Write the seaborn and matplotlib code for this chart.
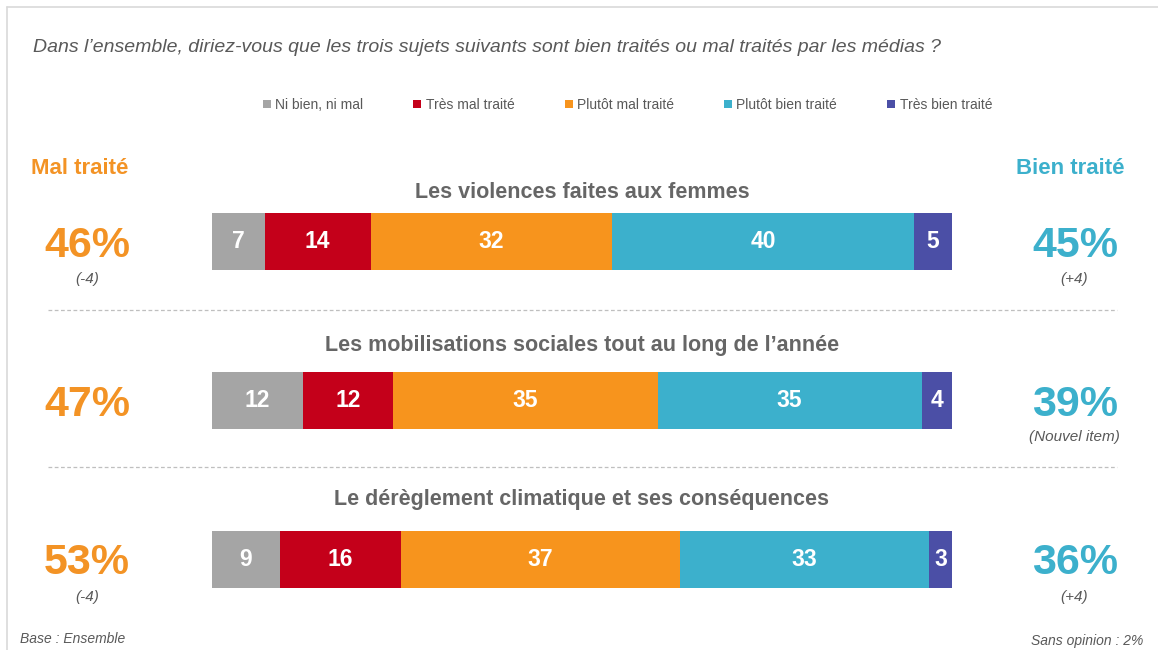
import numpy as np
import pandas as pd
import matplotlib
matplotlib.use("Agg")
import matplotlib.pyplot as plt
from matplotlib.lines import Line2D
import seaborn as sns

# ---------------- data ----------------
topics = ["Les violences faites aux femmes",
          "Les mobilisations sociales tout au long de l\u2019ann\u00e9e",
          "Le d\u00e9r\u00e8glement climatique et ses cons\u00e9quences"]
series = ["Ni bien, ni mal", "Tr\u00e8s mal trait\u00e9", "Plut\u00f4t mal trait\u00e9",
          "Plut\u00f4t bien trait\u00e9", "Tr\u00e8s bien trait\u00e9"]
ni_bien_ni_mal = [7, 12, 9]
tres_mal = [14, 12, 16]
plutot_mal = [32, 35, 37]
plutot_bien = [40, 35, 33]
tres_bien = [5, 4, 3]
evol_mal = ["(-4)", "", "(-4)"]
evol_bien = ["(+4)", "(Nouvel item)", "(+4)"]
sans_opinion = 2

colors = ["#A5A5A5", "#C4001A", "#F7941D", "#3CB0CC", "#4B4FA6"]
TXT = "#595959"
TITLE = "#666666"
ORANGE = "#F39325"
TEAL = "#3CB0CC"

values = np.array([ni_bien_ni_mal, tres_mal, plutot_mal, plutot_bien, tres_bien])
cum = values.cumsum(axis=0)
mal_tot = values[1] + values[2]
bien_tot = values[3] + values[4]

W, H = 1158, 650
fig = plt.figure(figsize=(W / 100, H / 100), dpi=100)
sns.set_style("white")
plt.rcParams["font.family"] = ["Liberation Sans", "DejaVu Sans"]

def fx(x):
    return x / W

def fy(y):
    return 1 - y / H

x0, x1 = 212, 952
ax = fig.add_axes([fx(x0), 0, fx(x1) - fx(x0), 1])

# stacked bars: draw cumulative totals from the widest to the narrowest
for i in range(len(series) - 1, -1, -1):
    df = pd.DataFrame({"topic": topics, "val": cum[i]})
    sns.barplot(data=df, x="val", y="topic", color=colors[i], width=0.36,
                saturation=1, ax=ax, orient="h", linewidth=0)

total = cum[-1].max()
ax.set_xlim(0, total)
row0, step = 241.5, 159.0
ax.set_ylim((H - row0) / step, -row0 / step)
ax.axis("off")

# value labels inside bars
for k in range(len(topics)):
    for i in range(len(series)):
        left = cum[i][k] - values[i][k]
        ax.text(left + values[i][k] / 2, k, str(values[i][k]), ha="center", va="center",
                color="white", fontsize=16.5, fontweight="bold")

# question
fig.text(fx(33), fy(48), "Dans l\u2019ensemble, diriez-vous que les trois sujets suivants sont bien trait\u00e9s ou mal trait\u00e9s par les m\u00e9dias ?",
         ha="left", va="center", fontsize=14, style="italic", color=TXT)

# legend
handles = [Line2D([0], [0], marker="s", linestyle="none", markersize=6,
                  markerfacecolor=c, markeredgewidth=0) for c in colors]
fig.legend(handles, series, loc="center", bbox_to_anchor=(fx(626), fy(105)), ncol=5,
           frameon=False, fontsize=10, labelcolor=TXT, handletextpad=0.1,
           columnspacing=3.4, handlelength=1.0)

# headers
fig.text(fx(80), fy(168), "Mal trait\u00e9", ha="center", va="center", fontsize=16,
         fontweight="bold", color=ORANGE)
fig.text(fx(1070), fy(168), "Bien trait\u00e9", ha="center", va="center", fontsize=16,
         fontweight="bold", color=TEAL)

title_y = [192, 345, 500]
for k in range(len(topics)):
    yc = row0 + step * k
    fig.text(fx((x0 + x1) / 2), fy(title_y[k]), topics[k], ha="center", va="center",
             fontsize=15.5, fontweight="bold", color=TITLE)
    fig.text(fx(87), fy(yc + 4), f"{mal_tot[k]}%", ha="center", va="center",
             fontsize=31, fontweight="bold", color=ORANGE)
    fig.text(fx(1075), fy(yc + 4), f"{bien_tot[k]}%", ha="center", va="center",
             fontsize=31, fontweight="bold", color=TEAL)
    if evol_mal[k]:
        fig.text(fx(87), fy(yc + 37), evol_mal[k], ha="center", va="center",
                 fontsize=11, style="italic", color=TXT)
    if evol_bien[k]:
        fig.text(fx(1074), fy(yc + 37), evol_bien[k], ha="center", va="center",
                 fontsize=11, style="italic", color=TXT)

# dashed separators
for ysep in [310, 467]:
    fig.add_artist(Line2D([fx(48), fx(1117)], [fy(ysep), fy(ysep)], color="#BFBFBF",
                          linestyle=(0, (3, 2)), linewidth=0.9))

# slide border
fig.add_artist(Line2D([fx(7), fx(W)], [fy(7), fy(7)], color="#D9D9D9", linewidth=1.2))
fig.add_artist(Line2D([fx(7), fx(7)], [fy(7), fy(H)], color="#D9D9D9", linewidth=1.2))

# footer
fig.text(fx(20), fy(639), "Base : Ensemble", ha="left", va="center", fontsize=10,
         style="italic", color=TXT)
fig.text(fx(1143), fy(641), f"Sans opinion : {sans_opinion}%", ha="right", va="center",
         fontsize=10, style="italic", color=TXT)

fig.savefig("out.png", dpi=100, facecolor="white")
